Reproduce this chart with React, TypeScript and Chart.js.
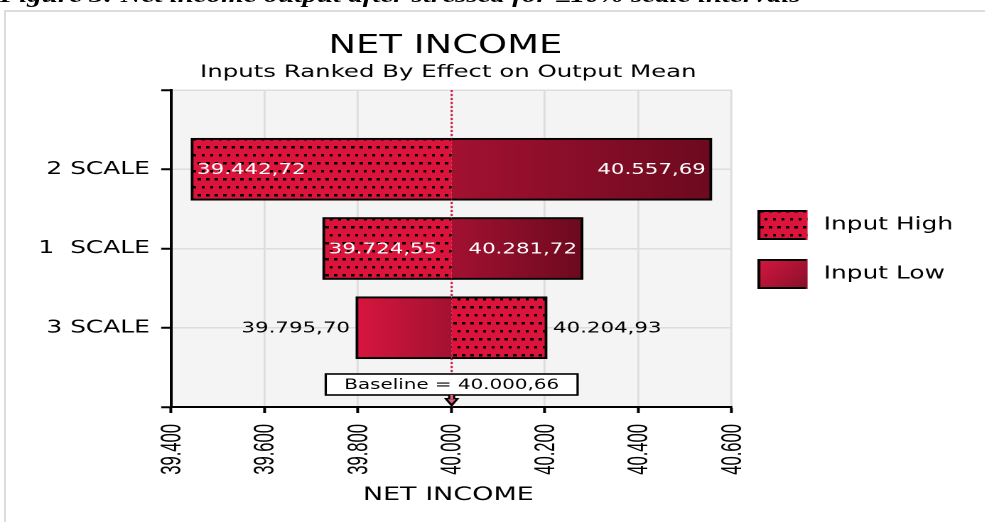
import { useEffect, useRef } from 'react';
import { Chart, registerables } from 'chart.js';

Chart.register(...registerables);

// ---------- data ----------
const categories = ['', '2 SCALE', '1  SCALE', '3 SCALE', ''];
const baselineValue = 40000.66;
const inputHighValues: (number | null)[] = [null, 39442.72, 39724.55, 40204.93, null];
const inputLowValues: (number | null)[] = [null, 40557.69, 40281.72, 39795.7, null];
const seriesNames = ['Input High', 'Input Low'];
const xMin = 39400;
const xMax = 40600;
const xStep = 200;
const chartTitle = 'NET INCOME';
const chartSubtitle = 'Inputs Ranked By Effect on Output Mean';
const xAxisTitle = 'NET INCOME';
const captionText = 'Figure 3: Net income output after stressed for ±10% scale intervals';

// ---------- layout ----------
const STRETCH = 1.42;
const PAGE_W = 985;
const PAGE_H = 522;
const W = PAGE_W / STRETCH;
const AREA_LEFT = 171 / STRETCH;
const AREA_RIGHT = 731 / STRETCH;
const AREA_TOP = 90;
const AREA_BOTTOM = 407;
const Y_AXIS_W = 100;
const X_AXIS_H = 100;
const X_TICK_LEN = 6;
const X_TICK_PAD = 11;
const DPR = 2;
const FONT = "'DejaVu Sans', Verdana, sans-serif";
const TICK_FONT = "'Liberation Sans', Arial, sans-serif";

function fmt(n: number, decimals: number) {
  const fixed = n.toFixed(decimals);
  const [intPart, dec] = fixed.split('.');
  const withDots = intPart.replace(/\B(?=(\d{3})+(?!\d))/g, '.');
  return dec ? withDots + ',' + dec : withDots;
}

function makePattern(ctx: CanvasRenderingContext2D) {
  const tw = 6;
  const th = 16;
  const c = document.createElement('canvas');
  c.width = tw * DPR;
  c.height = th * DPR;
  const g = c.getContext('2d')!;
  g.scale(DPR, DPR);
  g.fillStyle = '#dc143c';
  g.fillRect(0, 0, tw, th);
  g.fillStyle = '#000';
  g.fillRect(1, 2, 2.5, 2.5);
  g.fillRect(4, 10, 2, 2.5);
  const p = ctx.createPattern(c, 'repeat')!;
  p.setTransform(new DOMMatrix().scale(1 / DPR, 1 / DPR));
  return p;
}

function segGradient(ctx: CanvasRenderingContext2D, x0: number, x1: number, rightSide: boolean) {
  const g = ctx.createLinearGradient(x0, 0, x1, 0);
  if (rightSide) {
    g.addColorStop(0, '#a31131');
    g.addColorStop(1, '#6c0a1f');
  } else {
    g.addColorStop(0, '#d7163f');
    g.addColorStop(1, '#a31131');
  }
  return g;
}

const toSegments = (vals: (number | null)[]) =>
  vals.map((v) => (v == null ? null : [Math.min(v, baselineValue), Math.max(v, baselineValue)]));

export default function App() {
  const canvasRef = useRef<HTMLCanvasElement | null>(null);

  useEffect(() => {
    const canvas = canvasRef.current;
    if (!canvas) return;
    const ctx0 = canvas.getContext('2d')!;
    const pattern = makePattern(ctx0);
    Chart.defaults.font.family = FONT;

    const borderSkipped = (c: any) => {
      const raw = c.raw as number[] | null;
      if (!raw) return false;
      return raw[1] <= baselineValue + 1e-6 ? 'right' : 'left';
    };

    const gradientFill = (c: any) => {
      const raw = c.raw as number[] | null;
      const xs = c.chart.scales?.x;
      if (!raw || !xs) return '#a31131';
      const x0 = xs.getPixelForValue(raw[0]);
      const x1 = xs.getPixelForValue(raw[1]);
      return segGradient(c.chart.ctx, x0, x1, raw[0] >= baselineValue - 1e-6);
    };

    const common = {
      barThickness: 62,
      grouped: false,
      borderColor: '#000',
      borderWidth: 2,
      borderSkipped,
    };

    const decor = {
      id: 'decor',
      beforeDraw(chart: any) {
        const { ctx, chartArea: a } = chart;
        ctx.save();
        ctx.fillStyle = '#f4f4f4';
        ctx.fillRect(a.left, a.top, a.right - a.left, a.bottom - a.top);
        ctx.restore();
      },
      beforeDatasetsDraw(chart: any) {
        const { ctx, chartArea: a } = chart;
        const x = chart.scales.x.getPixelForValue(baselineValue);
        ctx.save();
        ctx.strokeStyle = '#d81b47';
        ctx.lineWidth = 1.5;
        ctx.setLineDash([2, 2]);
        ctx.beginPath();
        ctx.moveTo(x, a.top);
        ctx.lineTo(x, a.bottom);
        ctx.stroke();
        ctx.restore();
      },
      afterDatasetsDraw(chart: any) {
        const { ctx, chartArea: a } = chart;
        const pad = 4.2;
        ctx.save();
        ctx.font = `15px ${FONT}`;
        ctx.textBaseline = 'middle';
        const sources = [inputHighValues, inputLowValues];
        sources.forEach((vals, di) => {
          const meta = chart.getDatasetMeta(di);
          meta.data.forEach((el: any, i: number) => {
            const v = vals[i];
            if (v == null) return;
            const { x, base, y } = el.getProps(['x', 'base', 'y'], true);
            const left = Math.min(x, base);
            const right = Math.max(x, base);
            const txt = fmt(v, 2);
            const tw = ctx.measureText(txt).width;
            const inside = tw + 2 * pad <= right - left;
            ctx.fillStyle = inside ? '#ffffff' : '#000000';
            if (v < baselineValue) {
              ctx.textAlign = inside ? 'left' : 'right';
              ctx.fillText(txt, inside ? left + pad : left - pad, y + 1);
            } else {
              ctx.textAlign = inside ? 'right' : 'left';
              ctx.fillText(txt, inside ? right - pad : right + pad, y + 1);
            }
          });
        });

        // baseline box + arrow
        const bx = chart.scales.x.getPixelForValue(baselineValue);
        const label = 'Baseline = ' + fmt(baselineValue, 2);
        ctx.font = `14px ${FONT}`;
        const lw = ctx.measureText(label).width + 26;
        const boxTop = a.bottom - 33;
        const boxH = 21;
        ctx.fillStyle = '#fff';
        ctx.fillRect(bx - lw / 2, boxTop, lw, boxH);
        ctx.strokeStyle = '#000';
        ctx.lineWidth = 1.6;
        ctx.setLineDash([]);
        ctx.strokeRect(bx - lw / 2, boxTop, lw, boxH);
        ctx.fillStyle = '#000';
        ctx.textAlign = 'center';
        ctx.textBaseline = 'middle';
        ctx.fillText(label, bx, boxTop + boxH / 2 + 1);

        const ay = boxTop + boxH;
        ctx.fillStyle = '#000';
        ctx.fillRect(bx - 2.5, ay, 5, 4);
        ctx.beginPath();
        ctx.moveTo(bx - 5.5, ay + 3);
        ctx.lineTo(bx + 5.5, ay + 3);
        ctx.lineTo(bx, a.bottom);
        ctx.closePath();
        ctx.fill();
        ctx.fillStyle = '#e8607e';
        ctx.fillRect(bx - 1, ay, 2, 4);
        ctx.beginPath();
        ctx.moveTo(bx - 2.8, ay + 4.2);
        ctx.lineTo(bx + 2.8, ay + 4.2);
        ctx.lineTo(bx, a.bottom - 3.5);
        ctx.closePath();
        ctx.fill();
        ctx.restore();
      },
      afterDraw(chart: any) {
        const { ctx, chartArea: a } = chart;
        ctx.save();
        ctx.fillStyle = '#000';
        ctx.textAlign = 'center';
        ctx.textBaseline = 'alphabetic';
        ctx.font = `26px ${FONT}`;
        ctx.fillText(chartTitle, 445 / STRETCH, 53);
        ctx.font = `17.2px ${FONT}`;
        ctx.fillText(chartSubtitle, 448 / STRETCH, 77);
        ctx.font = `19px ${FONT}`;
        ctx.fillText(xAxisTitle, 448 / STRETCH, 500);

        // x tick labels (narrow, rotated) at the scale's own tick positions
        const xs = chart.scales.x;
        ctx.font = `20px ${TICK_FONT}`;
        ctx.textAlign = 'right';
        ctx.textBaseline = 'middle';
        xs.ticks.forEach((t: any) => {
          const px = xs.getPixelForValue(t.value);
          ctx.save();
          ctx.translate(px + 1.5 / STRETCH, a.bottom + X_TICK_LEN + X_TICK_PAD);
          ctx.rotate(-Math.PI / 2);
          ctx.scale(0.83, 1);
          ctx.fillText(fmt(t.value, 0), 0, 0);
          ctx.restore();
        });

        // legend
        const lx = 757 / STRETCH;
        const bw = 50 / STRETCH;
        const bh = 30;
        const tx = 823 / STRETCH;
        const fills = [pattern, null];
        seriesNames.forEach((name, i) => {
          const y = 210 + i * 49;
          let f: any = fills[i];
          if (!f) {
            const g = ctx.createLinearGradient(lx, y, lx + bw, y + bh);
            g.addColorStop(0, '#d8173f');
            g.addColorStop(1, '#86102a');
            f = g;
          }
          ctx.fillStyle = f;
          ctx.fillRect(lx, y, bw, bh);
          ctx.strokeStyle = '#000';
          ctx.lineWidth = 2;
          ctx.beginPath();
          ctx.moveTo(lx + bw - 1, y + 1);
          ctx.lineTo(lx + 1, y + 1);
          ctx.lineTo(lx + 1, y + bh - 1);
          ctx.lineTo(lx + bw - 1.5, y + bh - 1);
          ctx.stroke();
          ctx.fillStyle = '#000';
          ctx.textAlign = 'left';
          ctx.textBaseline = 'middle';
          ctx.font = `17.5px ${FONT}`;
          ctx.fillText(name, tx, y + bh / 2);
        });
        ctx.restore();
      },
    };

    const chart = new Chart(canvas, {
      type: 'bar',
      data: {
        labels: categories,
        datasets: [
          { label: seriesNames[0], data: toSegments(inputHighValues) as any, backgroundColor: pattern as any, ...common } as any,
          { label: seriesNames[1], data: toSegments(inputLowValues) as any, backgroundColor: gradientFill as any, ...common } as any,
        ],
      },
      options: {
        indexAxis: 'y',
        animation: false,
        responsive: true,
        maintainAspectRatio: false,
        devicePixelRatio: DPR,
        events: [],
        layout: {
          padding: {
            left: AREA_LEFT - Y_AXIS_W,
            right: W - AREA_RIGHT,
            top: AREA_TOP,
            bottom: PAGE_H - AREA_BOTTOM - X_AXIS_H,
          },
        },
        plugins: {
          legend: { display: false },
          title: { display: false },
          tooltip: { enabled: false },
        },
        scales: {
          x: {
            type: 'linear',
            min: xMin,
            max: xMax,
            ticks: {
              display: false,
              stepSize: xStep,
              autoSkip: false,
              callback: (v: any) => fmt(Number(v), 0),
            },
            grid: { color: '#dddddd', lineWidth: 1.4, tickColor: '#000', tickLength: X_TICK_LEN, tickWidth: 2, drawTicks: true },
            border: { display: true, color: '#000', width: 2 },
            afterFit: (s: any) => {
              s.height = X_AXIS_H;
            },
          },
          y: {
            type: 'category',
            offset: false,
            grid: { offset: false, color: '#dddddd', lineWidth: 1.5, tickColor: '#000', tickLength: 7, tickWidth: 2 },
            border: { display: true, color: '#000', width: 2 },
            ticks: { color: '#000', padding: 8, autoSkip: false, font: { size: 17.5, family: FONT } },
            afterFit: (s: any) => {
              s.width = Y_AXIS_W;
            },
          },
        } as any,
      },
      plugins: [decor as any],
    });

    return () => chart.destroy();
  }, []);

  return (
    <>
      <div
        style={{
          position: 'fixed',
          left: 4,
          top: 10,
          width: 1100,
          height: 700,
          borderLeft: '2px solid #dcdcdc',
          borderTop: '2px solid #dcdcdc',
          boxSizing: 'border-box',
        }}
      />
      <div
        style={{
          position: 'fixed',
          left: 0,
          top: -15.5,
          font: "italic bold 20.4px 'Liberation Serif', 'Times New Roman', serif",
          lineHeight: '20px',
          whiteSpace: 'nowrap',
          color: '#000',
          transform: `scaleX(${STRETCH})`,
          transformOrigin: '0 0',
        }}
      >
        {captionText}
      </div>
      <div
        style={{
          position: 'fixed',
          left: 0,
          top: 0,
          width: W,
          height: PAGE_H,
          transform: `scaleX(${STRETCH})`,
          transformOrigin: '0 0',
        }}
      >
        <canvas ref={canvasRef} style={{ width: '100%', height: '100%' }} />
      </div>
    </>
  );
}
